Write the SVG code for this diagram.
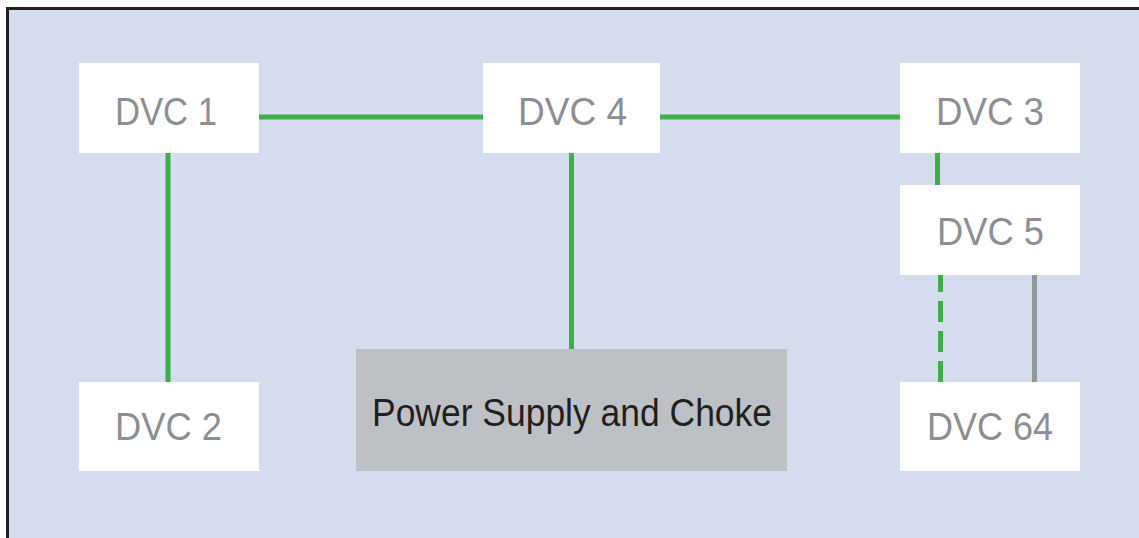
<svg xmlns="http://www.w3.org/2000/svg" width="1139" height="538" viewBox="0 0 1139 538">
<style>
.box{fill:#ffffff}
.lbl{font-family:"Liberation Sans",Arial,sans-serif;font-size:39px;fill:#8c8e93}
.ps{fill:#bdc1c5}
.pslbl{font-family:"Liberation Sans",Arial,sans-serif;font-size:38px;fill:#231f20}
.g{stroke:#3fae49;stroke-width:5;fill:none}
.gray{stroke:#939598;stroke-width:5;fill:none}
</style>
<rect x="0" y="0" width="1139" height="538" fill="#ffffff"/>
<rect x="7.5" y="8.5" width="1145" height="545" fill="#d4dcee" stroke="#231f20" stroke-width="3"/>
<g id="connectors">
<line class="g" x1="259" y1="117" x2="483" y2="117"/>
<line class="g" x1="660" y1="117" x2="900" y2="117"/>
<line class="g" x1="168" y1="153" x2="168" y2="382"/>
<line class="g" x1="571.5" y1="153" x2="571.5" y2="349"/>
<line class="g" x1="937.5" y1="153" x2="937.5" y2="185"/>
<line class="g" x1="940.5" y1="382" x2="940.5" y2="275" stroke-dasharray="21 9"/>
<line class="gray" x1="1034.5" y1="275" x2="1034.5" y2="382"/>
</g>
<g id="dvc1"><rect class="box" x="79" y="63" width="180" height="90"/><text class="lbl" x="115" y="125" textLength="102" lengthAdjust="spacingAndGlyphs">DVC 1</text></g>
<g id="dvc4"><rect class="box" x="483" y="63" width="177" height="90"/><text class="lbl" x="518" y="125" textLength="109" lengthAdjust="spacingAndGlyphs">DVC 4</text></g>
<g id="dvc3"><rect class="box" x="900" y="63" width="180" height="90"/><text class="lbl" x="936" y="125" textLength="108" lengthAdjust="spacingAndGlyphs">DVC 3</text></g>
<g id="dvc5"><rect class="box" x="900" y="185" width="180" height="90"/><text class="lbl" x="937" y="245" textLength="107" lengthAdjust="spacingAndGlyphs">DVC 5</text></g>
<g id="dvc2"><rect class="box" x="79" y="382" width="180" height="89"/><text class="lbl" x="115" y="440" textLength="107" lengthAdjust="spacingAndGlyphs">DVC 2</text></g>
<g id="dvc64"><rect class="box" x="900" y="382" width="180" height="89"/><text class="lbl" x="927" y="440" textLength="126" lengthAdjust="spacingAndGlyphs">DVC 64</text></g>
<g id="power"><rect class="ps" x="356" y="349" width="431" height="122"/><text class="pslbl" x="372" y="426" textLength="400" lengthAdjust="spacingAndGlyphs">Power Supply and Choke</text></g>
</svg>
